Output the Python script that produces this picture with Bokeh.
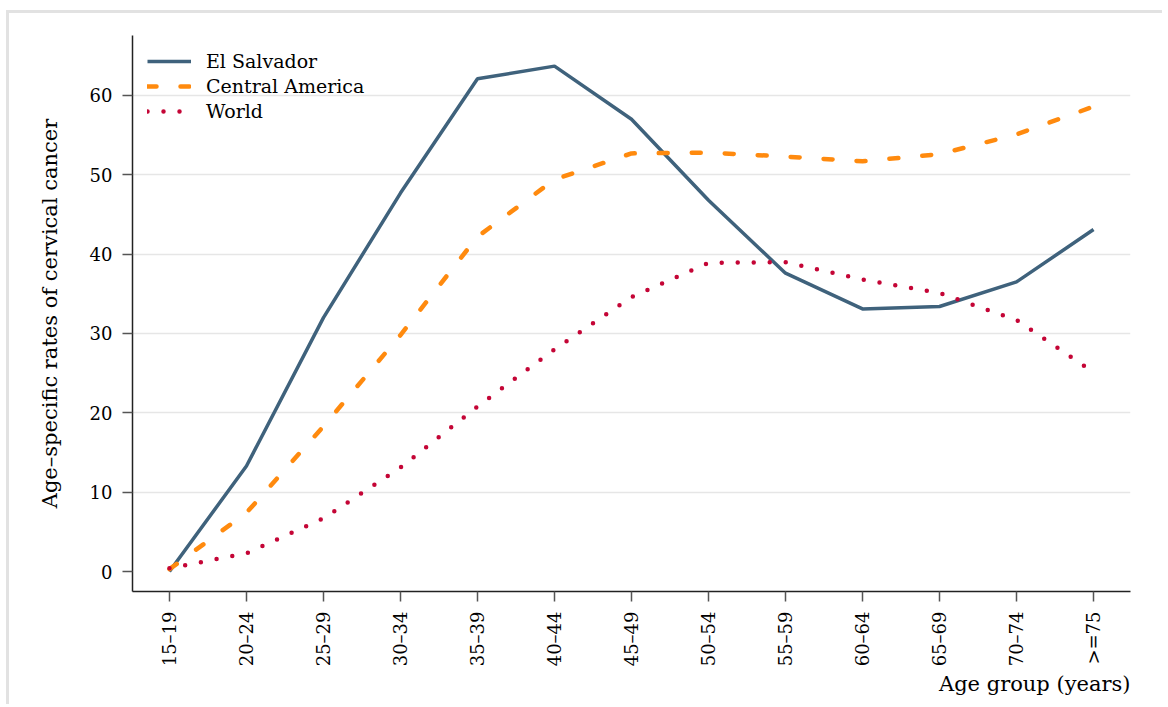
from math import pi
from bokeh.plotting import figure
from bokeh.models import Range1d, FixedTicker, Legend, LegendItem, Title
from bokeh.embed import file_html
from bokeh.resources import INLINE

age_groups = ["15\u201319", "20\u201324", "25\u201329", "30\u201334", "35\u201339", "40\u201344",
              "45\u201349", "50\u201354", "55\u201359", "60\u201364", "65\u201369", "70\u201374", ">=75"]
el_salvador = [0.0, 13.3, 32.0, 47.7, 62.1, 63.7, 57.0, 46.8, 37.6, 33.1, 33.4, 36.5, 43.1]
central_america = [0.3, 7.4, 18.3, 29.8, 42.2, 49.4, 52.7, 52.8, 52.3, 51.7, 52.6, 55.1, 58.6]
world = [0.4, 2.3, 6.7, 13.1, 20.8, 28.0, 34.6, 38.9, 39.0, 36.8, 35.1, 31.7, 25.1]
y_ticks = [0, 10, 20, 30, 40, 50, 60]

FONT = "DejaVu Serif"
xs = list(range(len(age_groups)))

p = figure(width=1156, height=694, output_backend="svg", toolbar_location=None,
           x_range=Range1d(-0.48, 12.48), y_range=Range1d(-2.52, 67.56),
           min_border_left=123, min_border_right=35, min_border_top=22, min_border_bottom=116)
# light-grey outer frame (left and top edges of the graph region)
p.styles = {"margin-left": "6px", "margin-top": "10px",
            "border-left": "3px solid #e2e2e2", "border-top": "3px solid #e2e2e2"}
p.outline_line_color = None
p.background_fill_color = "white"
p.border_fill_color = "white"

r1 = p.line(xs, el_salvador, line_color="#3f627c", line_width=3.5)
r2 = p.line(xs, central_america, line_color="#ff8a0e", line_width=4.5,
            line_dash="9 24", line_cap="round")
r3 = p.line(xs, world, line_color="#c40536", line_width=4.5,
            line_dash="0 16", line_cap="round")

# axes
xa = p.xaxis[0]
xa.ticker = FixedTicker(ticks=xs)
xa.major_label_overrides = {i: lab for i, lab in enumerate(age_groups)}
xa.major_label_orientation = pi / 2
xa.major_label_text_font = FONT
xa.major_label_text_font_size = "18px"
xa.major_label_text_color = "black"
xa.major_label_standoff = 10
xa.major_tick_out = 10
xa.major_tick_in = 0
xa.minor_tick_out = 0
xa.minor_tick_in = 0
xa.axis_line_color = "#222222"
xa.axis_line_width = 1.5
xa.major_tick_line_color = "#555555"
xa.major_tick_line_width = 1.5

ya = p.yaxis[0]
ya.ticker = FixedTicker(ticks=y_ticks)
ya.major_label_text_font = FONT
ya.major_label_text_font_size = "18px"
ya.major_label_text_color = "black"
ya.major_label_standoff = 10
ya.major_tick_out = 10
ya.major_tick_in = 0
ya.minor_tick_out = 0
ya.minor_tick_in = 0
ya.axis_line_color = "#222222"
ya.axis_line_width = 1.5
ya.major_tick_line_color = "#555555"
ya.major_tick_line_width = 1.5
ya.axis_label = "Age\u2013specific rates of cervical cancer"
ya.axis_label_text_font = FONT
ya.axis_label_text_font_size = "21px"
ya.axis_label_text_font_style = "normal"
ya.axis_label_text_color = "black"
ya.axis_label_standoff = 25

p.xgrid.grid_line_color = None
p.ygrid.ticker = FixedTicker(ticks=[10, 20, 30, 40, 50, 60])
p.ygrid.grid_line_color = "#e6e6e6"
p.ygrid.grid_line_width = 1.5

xt = Title(text="Age group (years)", align="right", text_font=FONT,
           text_font_size="21px", text_font_style="normal", text_color="black",
           standoff=0)
p.add_layout(xt, "below")

legend = Legend(items=[LegendItem(label="El Salvador", renderers=[r1]),
                       LegendItem(label="Central America", renderers=[r2]),
                       LegendItem(label="World", renderers=[r3])],
                location="top_left")
legend.border_line_color = None
legend.background_fill_alpha = 0
legend.margin = 15
legend.padding = 0
legend.spacing = 3
legend.glyph_width = 44
legend.glyph_height = 22
legend.label_height = 22
legend.label_standoff = 15
legend.label_text_font = FONT
legend.label_text_font_size = "19px"
legend.label_text_color = "black"
p.add_layout(legend)

open("out.html", "w").write(file_html(p, INLINE))
